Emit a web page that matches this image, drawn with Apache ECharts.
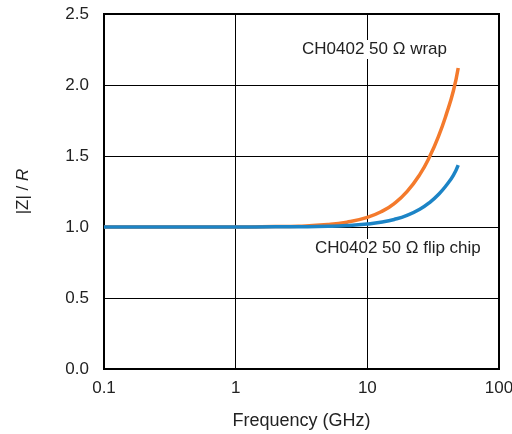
<!DOCTYPE html>
<html>
<head>
<meta charset="utf-8">
<script src="https://cdn.jsdelivr.net/npm/echarts@6/dist/echarts.min.js"></script>
<style>
  html, body { margin: 0; padding: 0; background: #fff; }
  #chart { width: 512px; height: 434px; }
</style>
</head>
<body>
<div id="chart"></div>
<script>
// frequencies in GHz
var freqs = [0.1, 0.2, 0.5, 1, 2, 3, 5, 7, 10, 13, 16, 20, 25, 30, 35, 40, 45, 49];
// |Z|/R
var wrapVals = [1.0, 1.0, 1.0, 1.0, 1.003, 1.006, 1.017, 1.034, 1.068, 1.112, 1.165, 1.249, 1.369, 1.503, 1.647, 1.80, 1.958, 2.12];
var flipVals = [1.0, 1.0, 1.0, 1.0, 1.001, 1.002, 1.005, 1.010, 1.021, 1.035, 1.053, 1.082, 1.125, 1.176, 1.233, 1.296, 1.364, 1.436];
var yTicks = [0, 0.5, 1.0, 1.5, 2.0, 2.5];

function pairs(xs, ys) {
    var out = [];
    for (var i = 0; i < xs.length; i++) {
        out.push([xs[i], ys[i]]);
    }
    return out;
}

var font = '"Liberation Sans", Arial, sans-serif';
var myChart = echarts.init(document.getElementById('chart'));

var option = {
    animation: false,
    grid: {
        left: 104, right: 13, top: 14, bottom: 65,
        outerBoundsMode: 'none', containLabel: false,
        show: true, borderColor: '#000', borderWidth: 2, backgroundColor: 'rgba(0,0,0,0)'
    },
    xAxis: {
        type: 'log', logBase: 10, min: 0.1, max: 100,
        name: 'Frequency (GHz)', nameLocation: 'middle', nameGap: 43,
        nameTextStyle: { fontFamily: font, fontSize: 18, color: '#222' },
        axisLine: { show: true, lineStyle: { color: '#000', width: 2 } },
        axisTick: { show: false },
        minorTick: { show: false },
        axisLabel: { fontFamily: font, fontSize: 17, color: '#222', margin: 11,
            formatter: function (v) { return String(+v.toPrecision(3)); } },
        splitLine: { show: true, lineStyle: { color: '#000', width: 1 } }
    },
    yAxis: {
        type: 'value', min: yTicks[0], max: yTicks[yTicks.length - 1], interval: 0.5,
        name: '{a||Z| / }{b|R}', nameLocation: 'middle', nameGap: 72, nameRotate: 90,
        nameTextStyle: {
            fontFamily: font, fontSize: 17, color: '#222',
            rich: {
                a: { fontFamily: font, fontSize: 17, color: '#222' },
                b: { fontFamily: font, fontSize: 17, color: '#222', fontStyle: 'italic' }
            }
        },
        axisLine: { show: true, lineStyle: { color: '#000', width: 2 } },
        axisTick: { show: false },
        axisLabel: { fontFamily: font, fontSize: 17, color: '#222', margin: 15,
            formatter: function (v) { return v.toFixed(1); } },
        splitLine: { show: true, lineStyle: { color: '#000', width: 1 } }
    },
    graphic: [
        {
            type: 'text', left: 300, top: 40, z: 100,
            style: { text: 'CH0402 50 Ω wrap', fontFamily: font, fontSize: 17, fill: '#222',
                backgroundColor: '#fff', padding: [1, 2] }
        },
        {
            type: 'text', left: 313, top: 239, z: 100,
            style: { text: 'CH0402 50 Ω flip chip', fontFamily: font, fontSize: 17, fill: '#222',
                backgroundColor: '#fff', padding: [1, 2] }
        }
    ],
    series: [
        {
            name: 'CH0402 50 Ω wrap', type: 'line', smooth: true, symbol: 'none',
            lineStyle: { color: '#f47a2c', width: 3.5 },
            data: pairs(freqs, wrapVals), z: 3
        },
        {
            name: 'CH0402 50 Ω flip chip', type: 'line', smooth: true, symbol: 'none',
            lineStyle: { color: '#1c84c6', width: 3.5 },
            data: pairs(freqs, flipVals), z: 4
        }
    ]
};

myChart.setOption(option);
</script>
</body>
</html>
